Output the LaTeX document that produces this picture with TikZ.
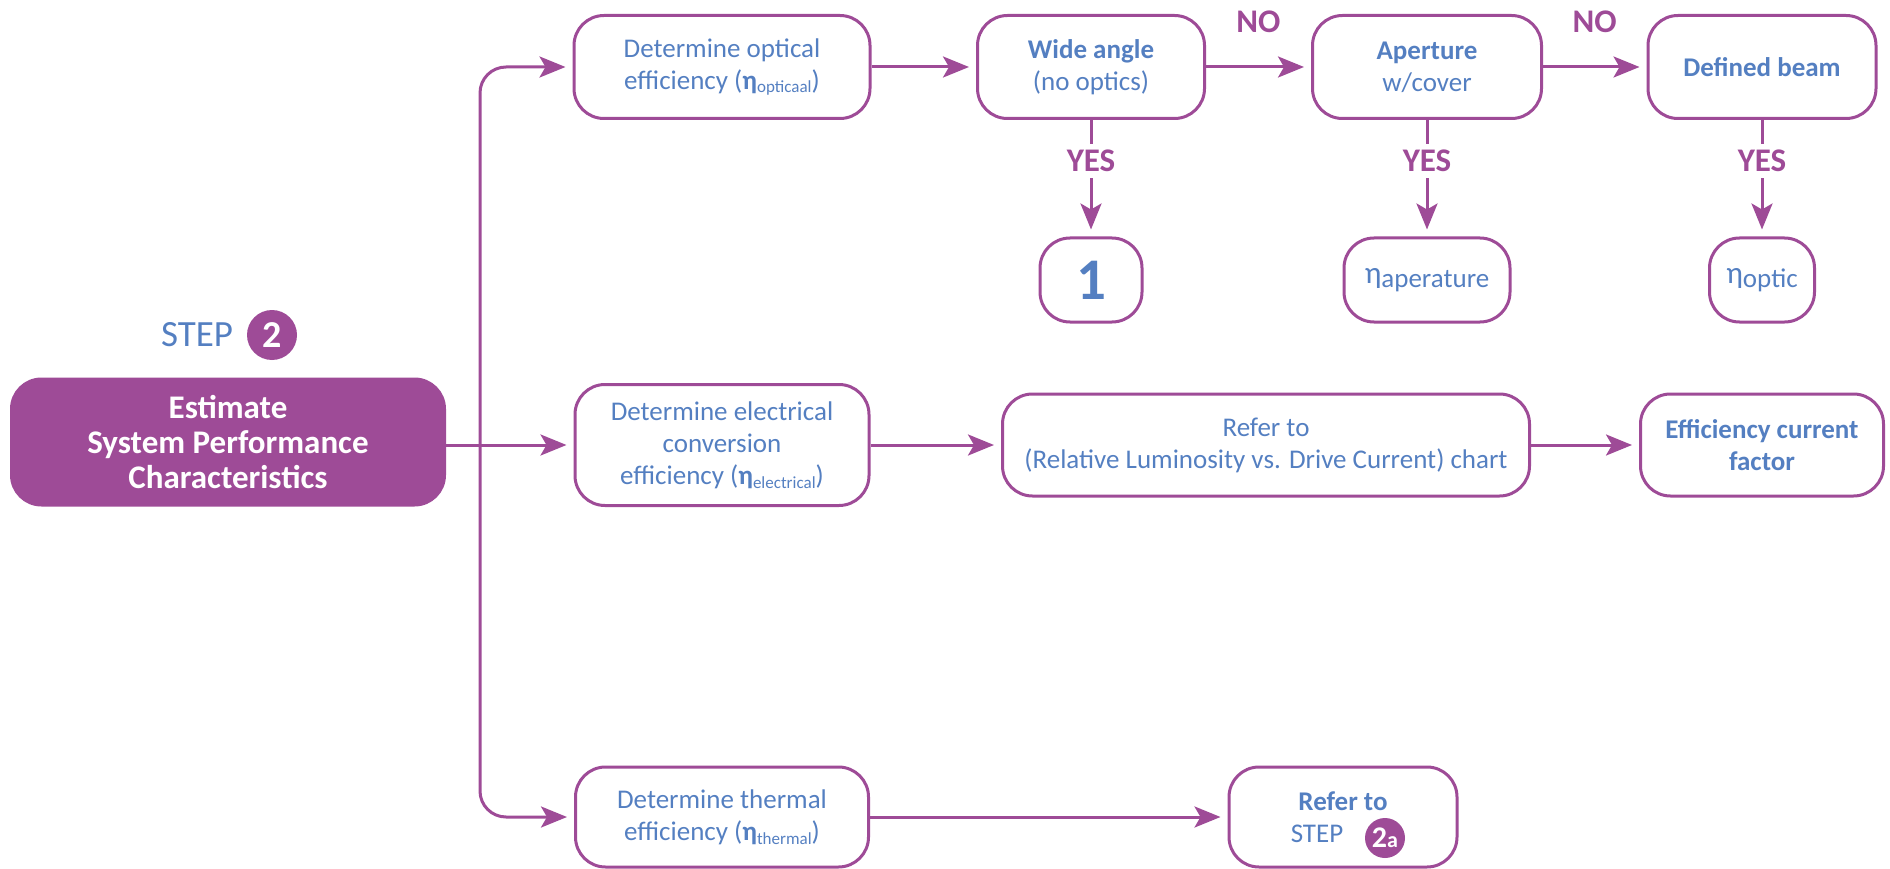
\documentclass[tikz,border=0pt]{standalone}
\usepackage{fontspec}
\setmainfont{Carlito}
\usetikzlibrary{arrows.meta}
\definecolor{stepPurple}{RGB}{158,75,151}
\definecolor{stepBlue}{RGB}{84,127,193}
\newcommand{\effsub}[1]{\raisebox{-0.3ex}{\fontsize{17}{17}\selectfont #1}}

\begin{document}
\begin{tikzpicture}[x=1pt, y=-1pt,
    box/.style={draw=stepPurple, line width=3pt, rounded corners=30pt, align=center,
        text=stepBlue, inner sep=2pt, font=\fontsize{27}{32}\selectfont},
    stepdot/.style={circle, fill=stepPurple, text=white, inner sep=0pt},
    flow/.style={draw=stepPurple, line width=3pt,
        -{Stealth[length=26pt, width=21pt, inset=6pt]}, shorten >=7pt},
    answer/.style={text=stepPurple, inner sep=6pt, font=\bfseries\fontsize{33}{33}\selectfont}]
        \useasboundingbox (0,0) rectangle (1890,869);
        % Step title
        \node [text=stepBlue, font=\fontsize{37}{37}\selectfont] (steptitle) at (197,335) {STEP};
        \node [stepdot, minimum size=50pt, font=\bfseries\fontsize{38}{38}\selectfont] (steptwo) at (272,335) {2};
        \node [box, fill=stepPurple, text=white, minimum width=433pt, minimum height=126pt,
            font=\bfseries\fontsize{33}{35}\selectfont] (estimate) at (228,442)
            {Estimate\\System Performance\\Characteristics};
        % Optical row
        \node [box, minimum width=296pt, minimum height=103pt] (optical) at (722,67)
            {Determine optical\\efficiency (\textbf{η}\effsub{opticaal})};
        \node [box, minimum width=227pt, minimum height=103pt] (wide) at (1091,67)
            {\textbf{Wide angle}\\(no optics)};
        \node [box, minimum width=229pt, minimum height=103pt] (aperture) at (1427,67)
            {\textbf{Aperture}\\w/cover};
        \node [box, minimum width=228pt, minimum height=103pt] (beam) at (1762,67)
            {\textbf{Defined beam}};
        \node [box, minimum width=102pt, minimum height=84pt,
            font=\bfseries\fontsize{59}{59}\selectfont] (one) at (1091,280) {1};
        \node [box, minimum width=166pt, minimum height=84pt] (etaaperture) at (1427,280)
            {{\fontsize{31}{31}\selectfont η}\raisebox{-4pt}{aperature}};
        \node [box, minimum width=105pt, minimum height=84pt] (etaoptic) at (1762,280)
            {{\fontsize{31}{31}\selectfont η}\raisebox{-4pt}{optic}};
        % Electrical row
        \node [box, minimum width=294pt, minimum height=121pt] (electrical) at (722,445)
            {Determine electrical\\conversion\\efficiency (\textbf{η}\effsub{electrical})};
        \node [box, minimum width=527pt, minimum height=102pt] (chart) at (1266,445)
            {Refer to\\(Relative Luminosity vs. Drive Current) chart};
        \node [box, minimum width=243pt, minimum height=102pt,
            font=\bfseries\fontsize{27}{32}\selectfont] (factor) at (1762,445)
            {Efficiency current\\factor};
        % Thermal row
        \node [box, minimum width=293pt, minimum height=100pt] (thermal) at (722,817)
            {Determine thermal\\efficiency (\textbf{η}\effsub{thermal})};
        \node [box, minimum width=228pt, minimum height=100pt] (refertwoa) at (1343,817)
            {\textbf{Refer to}\\STEP\hspace{52pt}\mbox{}};
        \node [stepdot, minimum size=40pt] (steptwoa) at (1385,838)
            {\bfseries\fontsize{30}{30}\selectfont 2\fontsize{22}{22}\selectfont a};
        % Arrows
        \coordinate (fork) at (480,445);
        \draw [flow] (estimate.east |- electrical.west) -- (electrical.west);
        \draw [flow, rounded corners=26pt] (fork) |- (optical.west);
        \draw [flow, rounded corners=26pt] (fork) |- (thermal.west);
        \draw [flow] (optical) -- (wide);
        \draw [flow] (wide) -- node [answer, above=27pt] {NO} (aperture);
        \draw [flow] (aperture) -- node [answer, above=27pt] {NO} (beam);
        \draw [flow] (wide) -- node [answer, fill=white, pos=0.35] {YES} (one);
        \draw [flow] (aperture) -- node [answer, fill=white, pos=0.35] {YES} (etaaperture);
        \draw [flow] (beam) -- node [answer, fill=white, pos=0.35] {YES} (etaoptic);
        \draw [flow] (electrical) -- (chart);
        \draw [flow] (chart) -- (factor);
        \draw [flow] (thermal) -- (refertwoa);
\end{tikzpicture}
\end{document}
